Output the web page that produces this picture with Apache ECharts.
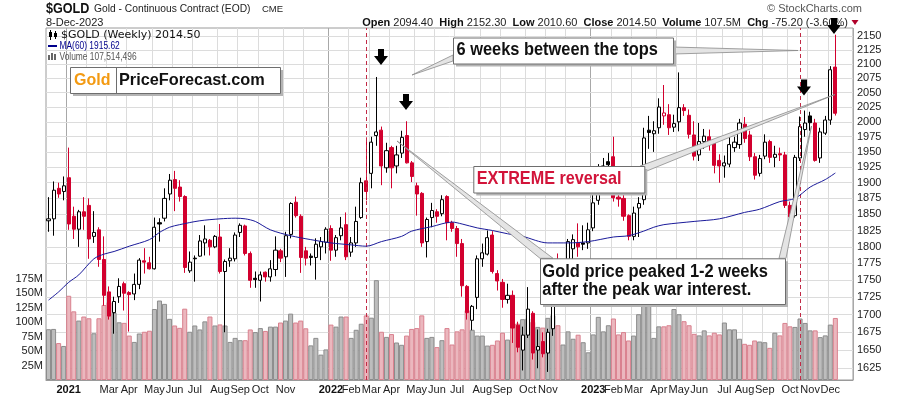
<!DOCTYPE html>
<html><head><meta charset="utf-8">
<script src="https://cdn.jsdelivr.net/npm/echarts@6/dist/echarts.min.js"></script>
<style>html,body{margin:0;padding:0;background:#fff}#c{width:900px;height:396px}</style>
</head><body><div id="c"></div>
<script>
// ---------------- data (weekly, first week ends 2020-12-11) ----------------
const firstWeek = '2020-12-11';
const slotCount = 160;
const openP = [1840,1843,1891,1886,1908,1847,1827,1854,1864,1816,
 1826,1781,1733,1703,1726,1745,1732,1730,1744,1779,
 1776,1767,1837,1844,1882,1905,1893,1878,1764,1783,
 1786,1806,1810,1800,1815,1763,1779,1782,1822,1832,
 1790,1753,1750,1762,1755,1766,1794,1785,1819,1869,
 1847,1794,1786,1784,1800,1807,1828,1795,1817,1834,
 1792,1806,1845,1903,1915,1977,1986,1924,1957,1927,
 1948,1977,1932,1895,1883,1808,1845,1854,1851,1878,
 1837,1828,1805,1741,1692,1725,1782,1789,1818,1760,
 1747,1722,1728,1685,1650,1671,1702,1650,1662,1646,
 1680,1771,1754,1768,1797,1806,1806,1806,1829,1872,
 1920,1934,1942,1877,1875,1848,1816,1860,1873,1986,
 1980,1990,2010,2012,1991,2000,2024,2011,1978,1945,
 1967,1975,1964,1936,1927,1930,1957,1962,1996,1978,
 1942,1915,1943,1967,1941,1947,1945,1864,1848,1940,
 1987,2010,1998,1940,1981,2003,2094.4];
const highP = [1877,1902,1900,1910,1957,1862,1857,1877,1875,1855,
 1830,1816,1741,1726,1753,1748,1734,1760,1783,1798,
 1785,1845,1844,1891,1914,1919,1904,1880,1793,1787,
 1818,1833,1812,1818,1835,1781,1798,1822,1836,1834,
 1793,1763,1763,1763,1780,1816,1797,1823,1869,1878,
 1850,1800,1790,1813,1815,1830,1833,1818,1846,1853,
 1815,1862,1908,1974,1975,2077,1992,1965,1960,1960,
 1985,2001,1935,1900,1885,1845,1868,1858,1880,1880,
 1840,1832,1812,1743,1714,1787,1805,1825,1824,1765,
 1752,1745,1735,1690,1683,1740,1705,1679,1675,1680,
 1776,1790,1770,1812,1819,1836,1833,1837,1885,1930,
 1940,1948,1975,1893,1886,1850,1862,1877,1990,2010,
 2001,2040,2063,2030,2012,2085,2030,2021,2001,1998,
 1988,1987,1968,1946,1944,1978,1975,2005,2008,1985,
 1948,1945,1979,1970,1960,1957,1950,1870,1945,2009,
 2019,2017,2005,1990,2010,2096,2152.3];
const lowP = [1823,1817,1876,1872,1826,1812,1800,1826,1782,1806,
 1770,1713,1693,1673,1717,1706,1676,1721,1737,1760,
 1766,1766,1808,1839,1872,1855,1870,1761,1761,1748,
 1785,1787,1787,1798,1760,1675,1770,1778,1815,1787,
 1739,1739,1719,1748,1748,1756,1777,1755,1813,1845,
 1761,1772,1772,1751,1780,1790,1779,1785,1810,1780,
 1785,1800,1843,1872,1891,1960,1896,1916,1891,1915,
 1940,1931,1901,1848,1800,1784,1830,1837,1847,1810,
 1823,1785,1726,1693,1678,1708,1770,1787,1760,1735,
 1710,1716,1660,1647,1622,1667,1637,1625,1640,1620,
 1670,1747,1730,1760,1776,1785,1795,1797,1824,1865,
 1909,1917,1870,1862,1840,1810,1810,1815,1865,1955,
 1950,1980,1995,1978,1983,1984,2010,1972,1936,1935,
 1955,1952,1915,1900,1908,1925,1950,1955,1965,1935,
 1905,1910,1938,1932,1925,1935,1860,1840,1845,1935,
 1975,1985,1934,1932,1978,1995,2010.6];
const closeP = [1843,1888,1882,1895,1835,1827,1854,1847,1812,1822,
 1781,1728,1698,1719,1741,1731,1729,1744,1780,1777,
 1767,1830,1835,1875,1904,1891,1878,1769,1777,1782,
 1809,1812,1800,1816,1763,1778,1783,1818,1833,1790,
 1750,1751,1758,1755,1767,1795,1783,1817,1867,1848,
 1784,1783,1784,1804,1808,1827,1795,1814,1829,1785,
 1806,1839,1900,1886,1966,1983,1927,1952,1924,1945,
 1974,1932,1910,1882,1806,1842,1856,1847,1873,1837,
 1828,1805,1742,1703,1712,1782,1791,1814,1763,1749,
 1722,1728,1681,1654,1671,1708,1646,1655,1645,1675,
 1771,1754,1768,1808,1811,1800,1804,1826,1868,1921,
 1927,1929,1876,1874,1847,1816,1852,1867,1973,1982,
 1985,2025,2015,1990,1997,2024,2019,1979,1943,1967,
 1976,1964,1928,1927,1932,1962,1966,1998,1972,1942,
 1912,1939,1966,1941,1946,1945,1864,1846,1941,1992,
 1998,1998.5,1936,1983,2003,2089.7,2014.5];
const volumeM = [88,88.5,64,59,146,119,103,110,107,81,
 107,130,135,116.5,100,99,77,66,80.6,83.6,
 85.4,123,137.7,131.9,106,94.5,90.4,123.6,83.6,94.5,
 87.6,101.6,110,94.5,96.3,94.5,66,73,69,69,
 87.6,83,90,85,92.5,92.5,99.6,103,115,99.6,
 103,89.6,60,73,44,53,96,92.5,110,110,
 73,87,97.5,112,108,173,83.6,74.7,79.6,65,
 61,77,88.5,90,112,73,74.7,57,69,90,
 61.5,84.3,87.8,121,87,77,77,59.7,61,68.5,
 82,70,93.7,97.8,105.4,106.6,100.7,92,90.8,107.7,
 112.4,94.9,61.5,84.3,71.5,78.5,65.5,48,79,109.4,
 84.3,94.9,106.6,79,83,68.5,77,114,150,140,
 73,93,93,94.9,123,114,101.9,94.9,80,77.3,
 86,77.3,82,79,99.6,87.8,87.8,71.5,62.7,61,
 68.5,66.7,65.5,55.7,82,77.3,98.9,93,92,106.6,
 98.9,86,86,74.3,77.3,96,107.514496];
// MA(60) at these week indexes
const maWeek  = [0,2,4,6,9,11,13,16,20,22,24,26,30,34,37,39,41,44,48,52,56,60,63,66,70,72,76,80,82,85,88,91,94,99,103,107,112,115,118,120,122,128,133,138,141,145,148,151,154,156];
const maValue = [1721,1733,1747,1758,1782,1789,1793,1801,1811,1822,1830,1834,1840,1843,1844,1843,1839,1826,1817,1811,1806,1803,1801,1808,1816,1824,1831,1838,1835,1829,1825,1820,1816,1806,1806,1808,1815,1817,1824,1830,1834,1839,1843,1853,1858,1870,1875,1893,1905,1915.62];
const priceTicks = [1625,1650,1675,1700,1725,1750,1775,1800,1825,1850,1875,1900,1925,1950,1975,2000,2025,2050,2075,2100,2125,2150];
const monthTickWeeks = ['2021-01-08','2021-03-05','2021-04-02','2021-05-07','2021-06-04','2021-07-02','2021-08-06','2021-09-03','2021-10-01','2021-11-05','2022-01-07','2022-02-04','2022-03-04','2022-04-01','2022-05-06','2022-06-03','2022-07-01','2022-08-05','2022-09-02','2022-10-07','2022-11-04','2023-01-06','2023-02-03','2023-03-03','2023-04-07','2023-05-05','2023-06-02','2023-07-07','2023-08-04','2023-09-01','2023-10-06','2023-11-03','2023-12-01'];
const monthTickText  = ['2021','Mar','Apr','May','Jun','Jul','Aug','Sep','Oct','Nov','2022','Feb','Mar','Apr','May','Jun','Jul','Aug','Sep','Oct','Nov','2023','Feb','Mar','Apr','May','Jun','Jul','Aug','Sep','Oct','Nov','Dec'];
const extraGridWeeks = ['2021-02-05','2021-12-03','2022-12-02'];
const yearWeeks = ['2021-01-08','2022-01-07','2023-01-06'];
const eventWeeks = ['2022-02-25','2023-10-20'];

// ---------------- build ----------------
const t0 = Date.parse(firstWeek + 'T00:00:00Z');
const weeks = Array.from({length: slotCount}, (_, i) => new Date(t0 + i * 7 * 86400000).toISOString().slice(0, 10));
const labelMap = {}; monthTickWeeks.forEach((w, i) => labelMap[w] = monthTickText[i]);
const gridSet = new Set(monthTickWeeks.concat(extraGridWeeks));
const yearSet = new Set(yearWeeks);
const RED = '#d2002e', BLACK = '#000';
const n = closeP.length;
const isRed = i => i > 0 && closeP[i] < closeP[i - 1];

const candleData = closeP.map((c, i) => {
  const col = isRed(i) ? RED : BLACK;
  const up = c > openP[i];
  return { value: [openP[i], c, lowP[i], highP[i]],
    itemStyle: { color: up ? '#fff' : col, color0: up ? '#fff' : col, borderColor: col, borderColor0: col, borderWidth: 1 } };
});
const volData = volumeM.map((v, i) => ({ value: v,
  itemStyle: isRed(i) ? { color: '#ebb7be', borderColor: '#d9808e', borderWidth: 1 } : { color: '#bdbdbd', borderColor: '#8c8c8c', borderWidth: 1 } }));
const maData = maWeek.map((w, i) => [w, maValue[i]]);

const last = n - 1;
const chg = closeP[last] - closeP[last - 1];
const pct = chg / closeP[last - 1] * 100;
const fmt2 = v => v.toFixed(2);

const FONT = 'Liberation Sans, Arial, sans-serif';
const Z = 100;
function txt(x, y, text, font, fill, extra) {
  return Object.assign({ type: 'text', x, y, z: Z, style: { text, font, fill, textVerticalAlign: 'middle' } }, extra || {});
}
function box(x, y, w, h) {
  return [
    { type: 'rect', z: Z, shape: { x: x + 3, y: y + 3, width: w, height: h }, style: { fill: '#b4b4b4' } },
    { type: 'rect', z: Z, shape: { x: x + 0.5, y: y + 0.5, width: w, height: h }, style: { fill: '#fff', stroke: '#6e6e6e', lineWidth: 1 } }
  ];
}
function wedge(pts) { return { type: 'polygon', z: Z, shape: { points: pts }, style: { fill: '#e4e4e4', stroke: '#8a8a8a', lineWidth: 0.8 } }; }
function arrow(cx, top) {
  return { type: 'polygon', z: Z, shape: { points: [[cx - 3, top], [cx + 3, top], [cx + 3, top + 7], [cx + 7, top + 7], [cx, top + 16], [cx - 7, top + 7], [cx - 3, top + 7]] }, style: { fill: '#000' } };
}

const headerRich = '{b|Open} ' + fmt2(openP[last]) + '  {b|High} ' + fmt2(highP[last]) + '  {b|Low} ' + fmt2(lowP[last]) +
  '  {b|Close} ' + fmt2(closeP[last]) + '  {b|Volume} ' + volumeM[last].toFixed(1) + 'M  {b|Chg} ' + chg.toFixed(2) + ' (' + pct.toFixed(2) + '%)';

const graphics = [
  txt(46, 9, '$GOLD', 'bold 15px ' + FONT, '#111', { scaleX: 0.84 }),
  txt(94, 9, 'Gold - Continuous Contract (EOD)', '10.6px ' + FONT, '#222', { scaleX: 0.97 }),
  txt(262, 9.5, 'CME', '9.5px ' + FONT, '#222'),
  txt(46, 22.5, '8-Dec-2023', '11px ' + FONT, '#222'),
  { type: 'text', x: 848, y: 22.5, z: Z, style: { text: headerRich, font: '11px ' + FONT, fill: '#222', textAlign: 'right', textVerticalAlign: 'middle', rich: { b: { fontWeight: 'bold', fontSize: 11, fontFamily: FONT, fill: '#111' } } } },
  { type: 'polygon', z: Z, shape: { points: [[851.5, 20], [858.5, 20], [855, 25]] }, style: { fill: '#b0002a' } },
  txt(767, 9, '\u00A9 StockCharts.com', '11px ' + FONT, '#555'),
  // in-plot legend
  { type: 'line', z: Z, shape: { x1: 50.5, y1: 30, x2: 50.5, y2: 40 }, style: { stroke: '#000', lineWidth: 1 } },
  { type: 'rect', z: Z, shape: { x: 49, y: 32, width: 3, height: 5 }, style: { fill: '#000' } },
  { type: 'line', z: Z, shape: { x1: 55.5, y1: 31, x2: 55.5, y2: 39 }, style: { stroke: '#000', lineWidth: 1 } },
  { type: 'rect', z: Z, shape: { x: 54, y: 33, width: 3, height: 4 }, style: { fill: '#000' } },
  txt(61, 35, '$GOLD (Weekly) 2014.50', '11px DejaVu Sans, sans-serif', '#111'),
  { type: 'line', z: Z, shape: { x1: 48, y1: 46, x2: 57, y2: 46 }, style: { stroke: '#00008b', lineWidth: 2 } },
  txt(59.5, 46, 'MA(60) ' + fmt2(maValue[maValue.length - 1]), '10.5px ' + FONT, '#00008b', { scaleX: 0.8 }),
  { type: 'rect', z: Z, shape: { x: 48, y: 55, width: 2, height: 5 }, style: { fill: '#666' } },
  { type: 'rect', z: Z, shape: { x: 51, y: 53, width: 2, height: 7 }, style: { fill: '#666' } },
  { type: 'rect', z: Z, shape: { x: 54, y: 54, width: 2, height: 6 }, style: { fill: '#666' } },
  txt(59.5, 57, 'Volume ' + Math.round(volumeM[last] * 1e6).toLocaleString('en-US'), '10.5px ' + FONT, '#555', { scaleX: 0.8 }),
  // logo box
  ...box(70, 67, 210, 26),
  { type: 'line', z: Z, shape: { x1: 116.5, y1: 67, x2: 116.5, y2: 93 }, style: { stroke: '#6e6e6e', lineWidth: 1 } },
  txt(74, 80.5, 'Gold', 'bold 16px ' + FONT, '#f39a12'),
  txt(119, 80.5, 'PriceForecast.com', 'bold 16.3px ' + FONT, '#111'),
  // callout wedges
  wedge([[453, 55], [453, 61], [412, 75]]),
  wedge([[673, 47], [673, 54], [798, 50.5]]),
  wedge([[640, 166], [644.3, 172], [835, 94.5]]),
  wedge([[540, 258.3], [553, 258.3], [397, 141]]),
  wedge([[779, 258.3], [786, 258.3], [811.5, 126]]),
  // callout boxes
  ...box(453, 37.5, 220, 26),
  txt(456.5, 50.5, '6 weeks between the tops', 'bold 16.4px ' + FONT, '#111', { scaleY: 1.1 }),
  ...box(473.3, 166, 171, 26.5),
  txt(476.7, 179.5, 'EXTREME reversal', 'bold 16.2px ' + FONT, '#d2143a', { scaleY: 1.08 }),
  ...box(540, 258.3, 245, 45.7),
  txt(542.3, 271.5, 'Gold price peaked 1-2 weeks', 'bold 16.5px ' + FONT, '#111', { scaleY: 1.1 }),
  txt(542.3, 289.5, 'after the peak war interest.', 'bold 16.5px ' + FONT, '#111', { scaleY: 1.1 }),
  // arrows
  arrow(381, 49), arrow(406, 94), arrow(804, 79.5), arrow(834, 18)
];

const chart = echarts.init(document.getElementById('c'), null, { renderer: 'canvas' });
chart.setOption({
  animation: false,
  backgroundColor: '#fff',
  textStyle: { fontFamily: FONT },
  grid: { left: 46, right: 47, top: 28, bottom: 16, show: true, borderColor: '#9a9a9a', borderWidth: 1 },
  xAxis: [{
    type: 'category', data: weeks, boundaryGap: true,
    axisLine: { lineStyle: { color: '#9a9a9a' } }, axisTick: { show: false },
    axisLabel: { interval: (i, v) => v in labelMap, margin: 4, fontSize: 11, color: '#222',
      formatter: v => { const t = labelMap[v] || ''; return /^\d{4}$/.test(t) ? '{y|' + t + '}' : t; },
      rich: { y: { fontWeight: 'bold', fontSize: 11, color: '#111' } } },
    splitLine: { show: true, interval: (i, v) => gridSet.has(v), lineStyle: { color: '#dcdcdc', width: 1 } }
  }, {
    type: 'category', data: weeks, boundaryGap: true, position: 'top',
    axisLine: { show: false }, axisTick: { show: false }, axisLabel: { show: false },
    splitLine: { show: true, interval: (i, v) => yearSet.has(v), lineStyle: { color: '#a8a8a8', width: 1 } }
  }],
  yAxis: [{
    type: 'log', logBase: 10, min: 1609, max: 2164.5, position: 'right',
    axisLine: { show: false }, axisTick: { show: false }, axisLabel: { show: false }, splitLine: { show: false }
  }, {
    type: 'value', min: 0, max: 610, interval: 25, position: 'left',
    axisLine: { show: false }, axisTick: { show: false }, splitLine: { show: false },
    axisLabel: { margin: 3, fontSize: 11, color: '#222', formatter: v => (v >= 25 && v <= 175) ? v + 'M' : '' }
  }],
  series: [{
    name: 'Volume', type: 'bar', xAxisIndex: 0, yAxisIndex: 1, data: volData,
    barWidth: '100%', barCategoryGap: '0%', z: 2, silent: true
  }, {
    name: '$GOLD', type: 'candlestick', xAxisIndex: 0, yAxisIndex: 0, data: candleData,
    barWidth: 3.6, z: 3, silent: true,
    markLine: { silent: true, symbol: 'none', z: 4, label: { show: false },
      lineStyle: { color: '#c22a46', type: [4, 3], width: 1 },
      data: eventWeeks.map(w => ({ xAxis: w })) }
  }, {
    name: 'MA(60)', type: 'line', xAxisIndex: 0, yAxisIndex: 0, data: maData,
    showSymbol: false, smooth: 0.3, z: 4, silent: true,
    lineStyle: { color: '#1a1a9a', width: 1 },
    markLine: { silent: true, symbol: 'none', z: 0,
      lineStyle: { color: '#dcdcdc', type: 'solid', width: 1 },
      label: { position: 'end', distance: 4, fontSize: 11, color: '#222', formatter: p => String(p.value) },
      data: priceTicks.map(v => ({ yAxis: v })) }
  }],
  graphic: { elements: graphics }
});
</script></body></html>
